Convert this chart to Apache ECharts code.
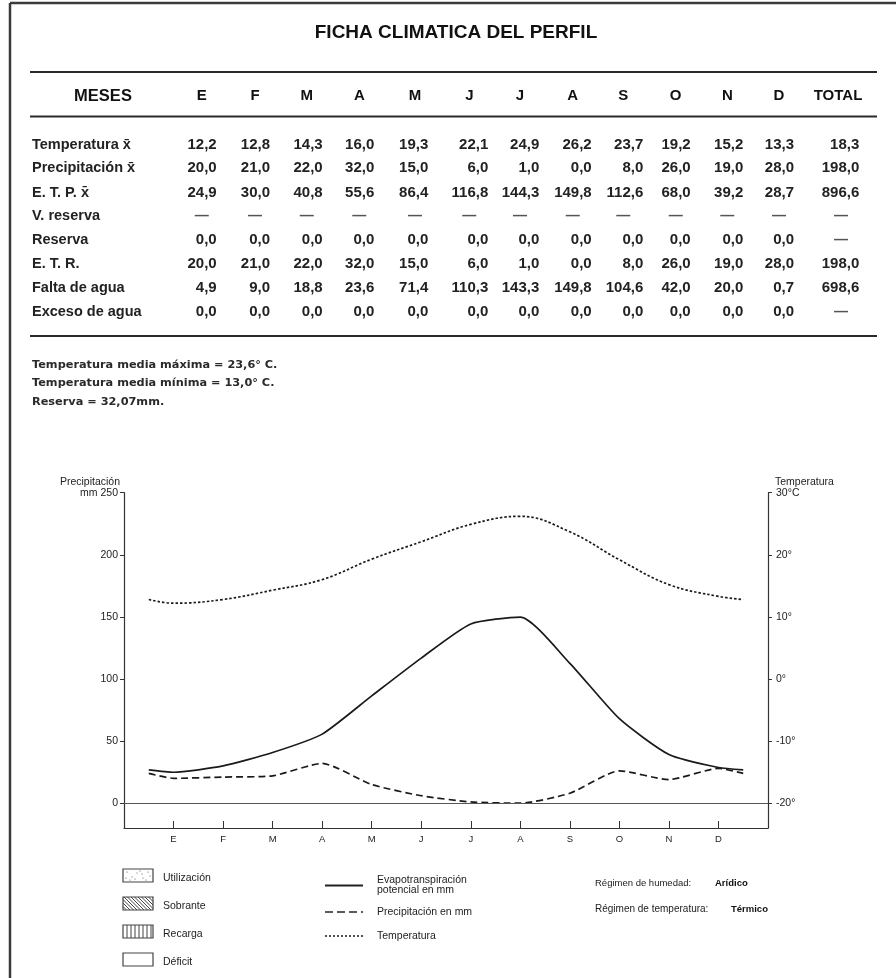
<!DOCTYPE html>
<html><head><meta charset="utf-8">
<script src="https://cdn.jsdelivr.net/npm/echarts@6/dist/echarts.min.js"></script>
<style>html,body{margin:0;padding:0;background:#fff}#c{width:896px;height:978px}</style>
</head><body><div id="c"></div>
<script>
// ---------- data ----------
const months = ['E','F','M','A','M','J','J','A','S','O','N','D'];
const temperatura   = [12.2,12.8,14.3,16.0,19.3,22.1,24.9,26.2,23.7,19.2,15.2,13.3];
const precipitacion = [20.0,21.0,22.0,32.0,15.0,6.0,1.0,0.0,8.0,26.0,19.0,28.0];
const etp           = [24.9,30.0,40.8,55.6,86.4,116.8,144.3,149.8,112.6,68.0,39.2,28.7];
const vReserva      = [null,null,null,null,null,null,null,null,null,null,null,null];
const reserva       = [0,0,0,0,0,0,0,0,0,0,0,0];
const etr           = [20.0,21.0,22.0,32.0,15.0,6.0,1.0,0.0,8.0,26.0,19.0,28.0];
const faltaAgua     = [4.9,9.0,18.8,23.6,71.4,110.3,143.3,149.8,104.6,42.0,20.0,0.7];
const excesoAgua    = [0,0,0,0,0,0,0,0,0,0,0,0];
const totales       = [18.3,198.0,896.6,null,null,198.0,698.6,null];
const rowLabels = ['Temperatura x\u0304','Precipitación x\u0304','E. T. P. x\u0304','V. reserva','Reserva','E. T. R.','Falta de agua','Exceso de agua'];
// curve end points drawn half a month before E and after D
const tempEdge = 12.8, precipEdge = 24.0, etpEdge = 26.8;
const precipTicks = [0,50,100,150,200,250];
const tempTicks = [-20,-10,0,10,20,30];
const notes = ['Temperatura media máxima = 23,6° C.','Temperatura media mínima = 13,0° C.','Reserva = 32,07mm.'];

// ---------- layout ----------
const FF = '"Liberation Sans", Arial, sans-serif';
const FD = '"DejaVu Sans", sans-serif';
const colRight  = [216.7,270,322.7,374.3,428.3,488.3,539.3,591.7,643.3,690.7,743.3,794,859.3];
const colCenter = [201.7,255,306.7,359.3,415,469.3,520,572.7,623.3,675.7,727.3,779,838];
const rowY = [145,168.3,192.7,216,240,264,288.3,311.7];

const g = [];
function T(x,y,text,font,align,fill){ g.push({type:'text',x:x,y:y,silent:true,style:{text:text,font:font,fill:fill||'#1e1e1e',align:align||'left',verticalAlign:'middle'}}); }
function L(x1,y1,x2,y2,w,color,dash){ g.push({type:'line',silent:true,shape:{x1:x1,y1:y1,x2:x2,y2:y2},style:{stroke:color||'#333',lineWidth:w||1,lineDash:dash||null}}); }
function R(x,y,w,h){ g.push({type:'rect',silent:true,shape:{x:x,y:y,width:w,height:h},style:{fill:'none',stroke:'#444',lineWidth:1.2}}); }
const fmt = v => v.toFixed(1).replace('.', ',');

// page border (top + left)
L(10,3,896,3,2.5,'#3a3a3a');
L(10,3,10,978,2.5,'#3a3a3a');

// title
T(456,33,'FICHA CLIMATICA DEL PERFIL','bold 19px '+FF,'center','#111');

// table rules
L(30,72,877,72,2,'#2a2a2a');
L(30,116.5,877,116.5,2,'#2a2a2a');
L(30,336,877,336,2,'#2a2a2a');

// header
T(103,96,'MESES','bold 16.5px '+FF,'center','#111');
months.forEach((m,i)=>T(colCenter[i],96,m,'bold 15px '+FF,'center','#111'));
T(colCenter[12],96,'TOTAL','bold 15px '+FF,'center','#111');

// rows
const rowValues = [temperatura,precipitacion,etp,vReserva,reserva,etr,faltaAgua,excesoAgua];
rowLabels.forEach((lab,r)=>{
  T(32,rowY[r],lab,'bold 14.5px '+FF,'left','#222');
  rowValues[r].forEach((v,i)=>{
    if(v===null) T(colCenter[i],rowY[r],'—','bold 14px '+FF,'center','#555');
    else T(colRight[i],rowY[r],fmt(v),'bold 15px '+FF,'right','#222');
  });
  const t = totales[r];
  if(t===null) T(colCenter[12]+3,rowY[r],'—','bold 14px '+FF,'center','#555');
  else T(colRight[12],rowY[r],fmt(t),'bold 15px '+FF,'right','#222');
});

// notes
notes.forEach((n,i)=>T(32,365+i*18.4,n,'bold 11.3px '+FD,'left','#2a2a2a'));

// legend boxes
const bx = 123, bw = 30, bh = 13;
const boxY = [869,897,925,953];
const boxLab = ['Utilización','Sobrante','Recarga','Déficit'];
boxY.forEach((y,i)=>{ R(bx,y,bw,bh); T(163,y+bh/2+3,boxLab[i],'10.5px '+FF,'left','#222'); });
[[4,3],[9,8],[14,4],[20,9],[25,3],[7,11],[17,2],[23,11],[12,10],[27,7],[3,9],[19,5]].forEach(p=>{
  g.push({type:'circle',silent:true,shape:{cx:bx+p[0],cy:boxY[0]+p[1],r:0.6},style:{fill:'#555'}});
});
for(let k=-bh;k<bw;k+=3.5){
  let x1=bx+k,y1=boxY[1],x2=bx+k+bh,y2=boxY[1]+bh;
  if(x1<bx){y1=boxY[1]+(bx-x1);x1=bx;}
  if(x2>bx+bw){y2=boxY[1]+bh-(x2-(bx+bw));x2=bx+bw;}
  L(x1,y1,x2,y2,1,'#444');
}
for(let k=4;k<bw;k+=4) L(bx+k,boxY[2],bx+k,boxY[2]+bh,1,'#444');

// legend lines
L(325,885.5,363,885.5,2,'#222');
T(377,880,'Evapotranspiración','10.5px '+FF,'left','#222');
T(377,890,'potencial en mm','10.5px '+FF,'left','#222');
L(325,912,363,912,1.6,'#222',[8,4]);
T(377,912,'Precipitación en mm','10.5px '+FF,'left','#222');
L(325,936,363,936,1.6,'#222',[2,2]);
T(377,936,'Temperatura','10.5px '+FF,'left','#222');

// regimes
T(595,883,'Régimen de humedad:','9.5px '+FF,'left','#222');
T(715,883,'Arídico','bold 9.5px '+FF,'left','#111');
T(595,909,'Régimen de temperatura:','10px '+FF,'left','#222');
T(731,909,'Térmico','bold 9.5px '+FF,'left','#111');

// ---------- series data ----------
function build(vals, edge){
  const d = [[-0.5, edge]];
  vals.forEach((v,i)=>d.push([i, v]));
  d.push([11.5, edge]);
  return d;
}
const monthIdx = months.map((m,i)=>i);
const axisCol = '#333';

const chart = echarts.init(document.getElementById('c'), null, {renderer:'canvas'});
chart.setOption({
  animation:false,
  backgroundColor:'#fff',
  textStyle:{fontFamily:FF},
  grid:{left:124,right:128,top:492.7,bottom:150},
  xAxis:{
    type:'value',min:-1,max:12,interval:1,
    axisLine:{onZero:false,lineStyle:{color:axisCol,width:1.2}},
    axisTick:{inside:true,length:7,customValues:monthIdx,lineStyle:{color:axisCol}},
    axisLabel:{customValues:monthIdx,formatter:v=>months[v]||'',fontSize:9.5,color:'#222',margin:6,fontFamily:FF},
    splitLine:{show:false}
  },
  yAxis:[{
    type:'value',min:-20,max:250,interval:10,position:'left',
    name:'Precipitación',nameLocation:'end',nameGap:9,
    nameTextStyle:{align:'right',verticalAlign:'middle',fontSize:10.5,color:'#222',padding:[0,4,0,0],fontFamily:FF},
    axisLine:{show:true,onZero:false,lineStyle:{color:axisCol,width:1.2}},
    axisTick:{show:true,length:4,customValues:precipTicks,lineStyle:{color:axisCol}},
    axisLabel:{customValues:precipTicks,formatter:v=>v===250?'mm 250':String(v),fontSize:10.5,color:'#222',margin:6,fontFamily:FF},
    splitLine:{show:false}
  },{
    type:'value',min:-24,max:30,interval:2,position:'right',
    name:'Temperatura',nameLocation:'end',nameGap:8,
    nameTextStyle:{align:'left',verticalAlign:'middle',fontSize:10.5,color:'#222',padding:[0,0,0,7],fontFamily:FF},
    axisLine:{show:true,onZero:false,lineStyle:{color:axisCol,width:1.2}},
    axisTick:{show:true,length:4,customValues:tempTicks,lineStyle:{color:axisCol}},
    axisLabel:{customValues:tempTicks,formatter:v=>v===30?'30°C':v+'°',fontSize:10.5,color:'#222',margin:8,fontFamily:FF},
    splitLine:{show:false}
  }],
  series:[{
    name:'Evapotranspiración potencial en mm',type:'line',data:build(etp,etpEdge),
    symbol:'none',smooth:0.2,lineStyle:{color:'#1a1a1a',width:1.7},
    markLine:{silent:true,symbol:'none',label:{show:false},data:[{yAxis:0}],lineStyle:{color:'#4a5a62',type:'solid',width:1.2}}
  },{
    name:'Precipitación en mm',type:'line',data:build(precipitacion,precipEdge),
    symbol:'none',smooth:0.2,lineStyle:{color:'#1a1a1a',width:1.7,type:[7,4]}
  },{
    name:'Temperatura',type:'line',yAxisIndex:1,data:build(temperatura,tempEdge),
    symbol:'none',smooth:0.4,lineStyle:{color:'#1a1a1a',width:1.7,type:[2.5,2]}
  }],
  graphic:g
});
</script></body></html>
